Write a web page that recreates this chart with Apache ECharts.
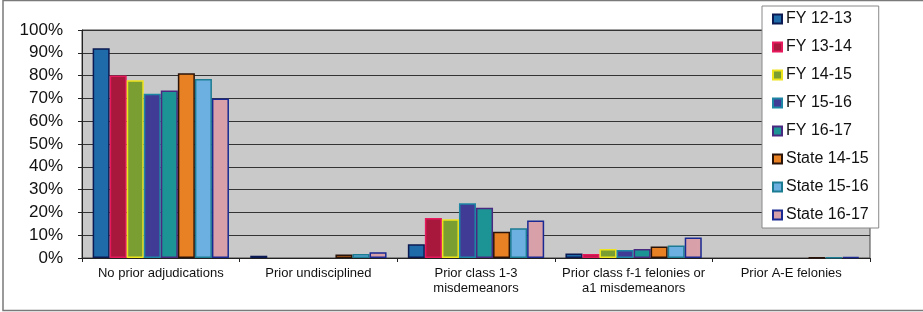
<!DOCTYPE html>
<html>
<head>
<meta charset="utf-8">
<script src="https://cdn.jsdelivr.net/npm/echarts@6/dist/echarts.min.js"></script>
<style>
  html, body { margin: 0; padding: 0; background: #fff; }
  #main { width: 923px; height: 312px; }
</style>
</head>
<body>
<div id="main"></div>
<script>
// Categories along the x axis
const categories = [
  'No prior adjudications',
  'Prior undisciplined',
  'Prior class 1-3\nmisdemeanors',
  'Prior class f-1 felonies or\na1 misdemeanors',
  'Prior A-E felonies'
];

// Percent values per series
const fy1213 = [92, 1, 6, 2, 0];
const fy1314 = [80, 0, 17.5, 1.8, 0];
const fy1415 = [78, 0, 17, 4, 0];
const fy1516 = [72, 0, 24, 3.5, 0];
const fy1617 = [73.5, 0, 22, 4, 0];
const state1415 = [81, 1.5, 11.5, 5, 0.3];
const state1516 = [78.5, 1.8, 13, 5.5, 0.3];
const state1617 = [70, 2.5, 16.5, 9, 0.5];

const yTicks = [0, 10, 20, 30, 40, 50, 60, 70, 80, 90, 100];

const seriesDefs = [
  { name: 'FY 12-13', data: fy1213, fill: '#1f6aa8', border: '#0b1a52' },
  { name: 'FY 13-14', data: fy1314, fill: '#a8173c', border: '#e5195c' },
  { name: 'FY 14-15', data: fy1415, fill: '#7a9e32', border: '#eee41c' },
  { name: 'FY 15-16', data: fy1516, fill: '#403c96', border: '#1c86a4' },
  { name: 'FY 16-17', data: fy1617, fill: '#1c9496', border: '#4a2a80' },
  { name: 'State 14-15', data: state1415, fill: '#e88024', border: '#2a140a' },
  { name: 'State 15-16', data: state1516, fill: '#6cb0e2', border: '#1c7c92' },
  { name: 'State 16-17', data: state1617, fill: '#d8a0a8', border: '#1a2a92' }
];

const font = '"Liberation Sans", Arial, sans-serif';

// zero bars get no outline so they vanish like in the original
const toItems = arr => arr.map(v => v === 0 ? { value: 0, itemStyle: { borderWidth: 0, opacity: 0 } } : v);

const option = {
  animation: false,
  textStyle: { fontFamily: font },
  graphic: [{
    type: 'rect',
    shape: { x: 3, y: 0.5, width: 940, height: 310 },
    style: { fill: 'none', stroke: '#7a7a7a', lineWidth: 1.5 },
    silent: true
  }],
  grid: {
    left: 82, right: 53, top: 30, bottom: 54,
    show: true,
    backgroundColor: '#c9c9c9',
    borderColor: '#444',
    borderWidth: 1
  },
  legend: {
    orient: 'vertical',
    left: 762,
    top: 6,
    padding: [5, 10, 5, 10],
    backgroundColor: '#fff',
    borderColor: '#888',
    borderWidth: 1,
    itemWidth: 9,
    itemHeight: 9,
    itemGap: 12,
    icon: 'rect',
    textStyle: { fontSize: 16, color: '#111', fontFamily: font, lineHeight: 16, padding: [0, 0, 0, -1] },
    data: seriesDefs.map(s => s.name)
  },
  xAxis: {
    type: 'category',
    data: categories,
    axisLine: { lineStyle: { color: '#222', width: 1 } },
    axisTick: { show: true, length: 4, lineStyle: { color: '#222' } },
    axisLabel: {
      interval: 0, hideOverlap: false,
      fontSize: 13, color: '#111', margin: 8, lineHeight: 15, fontFamily: font
    }
  },
  yAxis: {
    type: 'value',
    min: yTicks[0],
    max: yTicks[yTicks.length - 1],
    interval: 10,
    axisLine: { show: true, lineStyle: { color: '#222', width: 1 } },
    axisTick: { show: true, length: 4, lineStyle: { color: '#222' } },
    axisLabel: { fontSize: 17, color: '#111', margin: 19, formatter: '{value}%', fontFamily: font },
    splitLine: { lineStyle: { color: '#333', width: 1 } }
  },
  series: seriesDefs.map(s => ({
    name: s.name,
    type: 'bar',
    data: toItems(s.data),
    barGap: '0%',
    barCategoryGap: '13.5%',
    itemStyle: { color: s.fill, borderColor: s.border, borderWidth: 1.5 }
  }))
};

const myChart = echarts.init(document.getElementById('main'));
myChart.setOption(option);
</script>
</body>
</html>
